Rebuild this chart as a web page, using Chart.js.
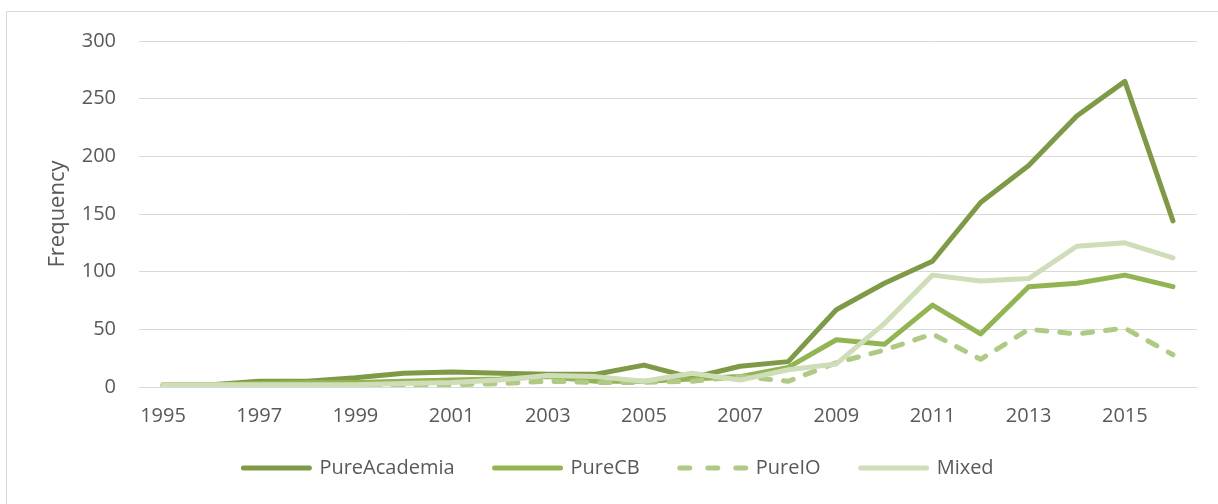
<!DOCTYPE html>
<html>
<head>
<meta charset="utf-8">
<script src="https://cdn.jsdelivr.net/npm/chart.js@4.4.1/dist/chart.umd.min.js"></script>
<style>
  html, body { margin: 0; padding: 0; background: #fff; overflow: hidden; }
  #wrap { position: relative; width: 1218px; height: 504px; }
  #frame { position: absolute; left: 6px; top: 11px; width: 1400px; height: 700px; border: 1px solid #D9D9D9; box-sizing: border-box; }
  canvas { position: absolute; left: 0; top: 0; }
</style>
</head>
<body>
<div id="wrap">
  <div id="frame"></div>
  <canvas id="c" width="1218" height="504"></canvas>
</div>
<script>
const years = ["1995","1996","1997","1998","1999","2000","2001","2002","2003","2004","2005","2006","2007","2008","2009","2010","2011","2012","2013","2014","2015","2016"];
const pureAcademia = [2, 2, 5, 5, 8, 12, 13, 12, 11, 11, 19, 8, 18, 22, 67, 90, 109, 160, 192, 235, 265, 144];
const pureCB       = [2, 2, 3, 4, 4, 5, 6, 7, 9, 5, 5, 7, 9, 17, 41, 37, 71, 46, 87, 90, 97, 87];
const pureIO       = [1, 1, 1, 1, 1, 1, 2, 3, 5, 4, 4, 5, 9, 5, 21, 32, 46, 24, 50, 46, 51, 28];
const mixed        = [2, 2, 2, 2, 2, 3, 4, 6, 10, 9, 5, 12, 6, 15, 20, 55, 97, 92, 94, 122, 125, 112];
const yTicks = [0, 50, 100, 150, 200, 250, 300];

const FONT = "'Open Sans', sans-serif";
const TXT = '#595959';

function ds(label, data, color, order, dash, legendDash) {
  return {
    label, data, borderColor: color, backgroundColor: color,
    borderWidth: 5, pointRadius: 0, pointHoverRadius: 0, tension: 0,
    borderCapStyle: 'round', borderJoinStyle: 'round',
    borderDash: dash || [], legendDash: legendDash || [], order, fill: false
  };
}

const legendShift = {
  id: 'legendShift',
  afterLayout(chart) {
    const l = chart.legend;
    if (!l) return;
    l.top = 418;
    l.bottom = 504;
    l.height = 86;
  }
};

new Chart(document.getElementById('c'), {
  type: 'line',
  data: {
    labels: years,
    datasets: [
      ds('PureAcademia', pureAcademia, '#7E9A46', 4),
      ds('PureCB', pureCB, '#93B452', 3),
      ds('PureIO', pureIO, '#AFCA84', 2, [10, 13], [10, 18]),
      ds('Mixed', mixed, '#CFDDB9', 1)
    ]
  },
  plugins: [legendShift],
  options: {
    responsive: false,
    animation: false,
    devicePixelRatio: 1,
    layout: { padding: { left: 40, right: 21, top: 41, bottom: 0 } },
    plugins: {
      tooltip: { enabled: false },
      legend: {
        position: 'bottom',
        maxHeight: 72,
        labels: {
          usePointStyle: true,
          pointStyle: 'line',
          pointStyleWidth: 66,
          boxHeight: 20,
          padding: 40,
          color: TXT,
          font: { family: FONT, size: 20 },
          generateLabels: function (chart) {
            return chart.data.datasets.map(function (d, i) {
              return {
                text: d.label,
                fillStyle: d.borderColor,
                strokeStyle: d.borderColor,
                lineWidth: 5,
                lineDash: d.legendDash,
                lineCap: 'round',
                lineJoin: 'round',
                pointStyle: 'line',
                fontColor: TXT,
                hidden: false,
                datasetIndex: i
              };
            });
          }
        }
      }
    },
    scales: {
      x: {
        offset: true,
        grid: { display: false, drawTicks: false },
        border: { display: true, color: '#D9D9D9', width: 1 },
        ticks: {
          autoSkip: false, maxRotation: 0, padding: 17,
          color: TXT, font: { family: FONT, size: 20 },
          callback: function (v, i) { return i % 2 === 0 ? years[i] : ''; }
        },
        afterFit: function (s) { s.height = 47; }
      },
      y: {
        min: 0, max: 300,
        afterBuildTicks: function (s) { s.ticks = yTicks.map(v => ({ value: v })); },
        grid: { color: '#D9D9D9', lineWidth: 1, drawTicks: false },
        border: { display: false },
        ticks: { padding: 23, color: TXT, font: { family: FONT, size: 20 } },
        title: { display: true, text: 'Frequency', color: TXT, font: { family: FONT, size: 22 }, padding: { top: 5, bottom: 0 } },
        afterFit: function (s) { s.width = 99; }
      }
    }
  }
});
</script>
</body>
</html>
